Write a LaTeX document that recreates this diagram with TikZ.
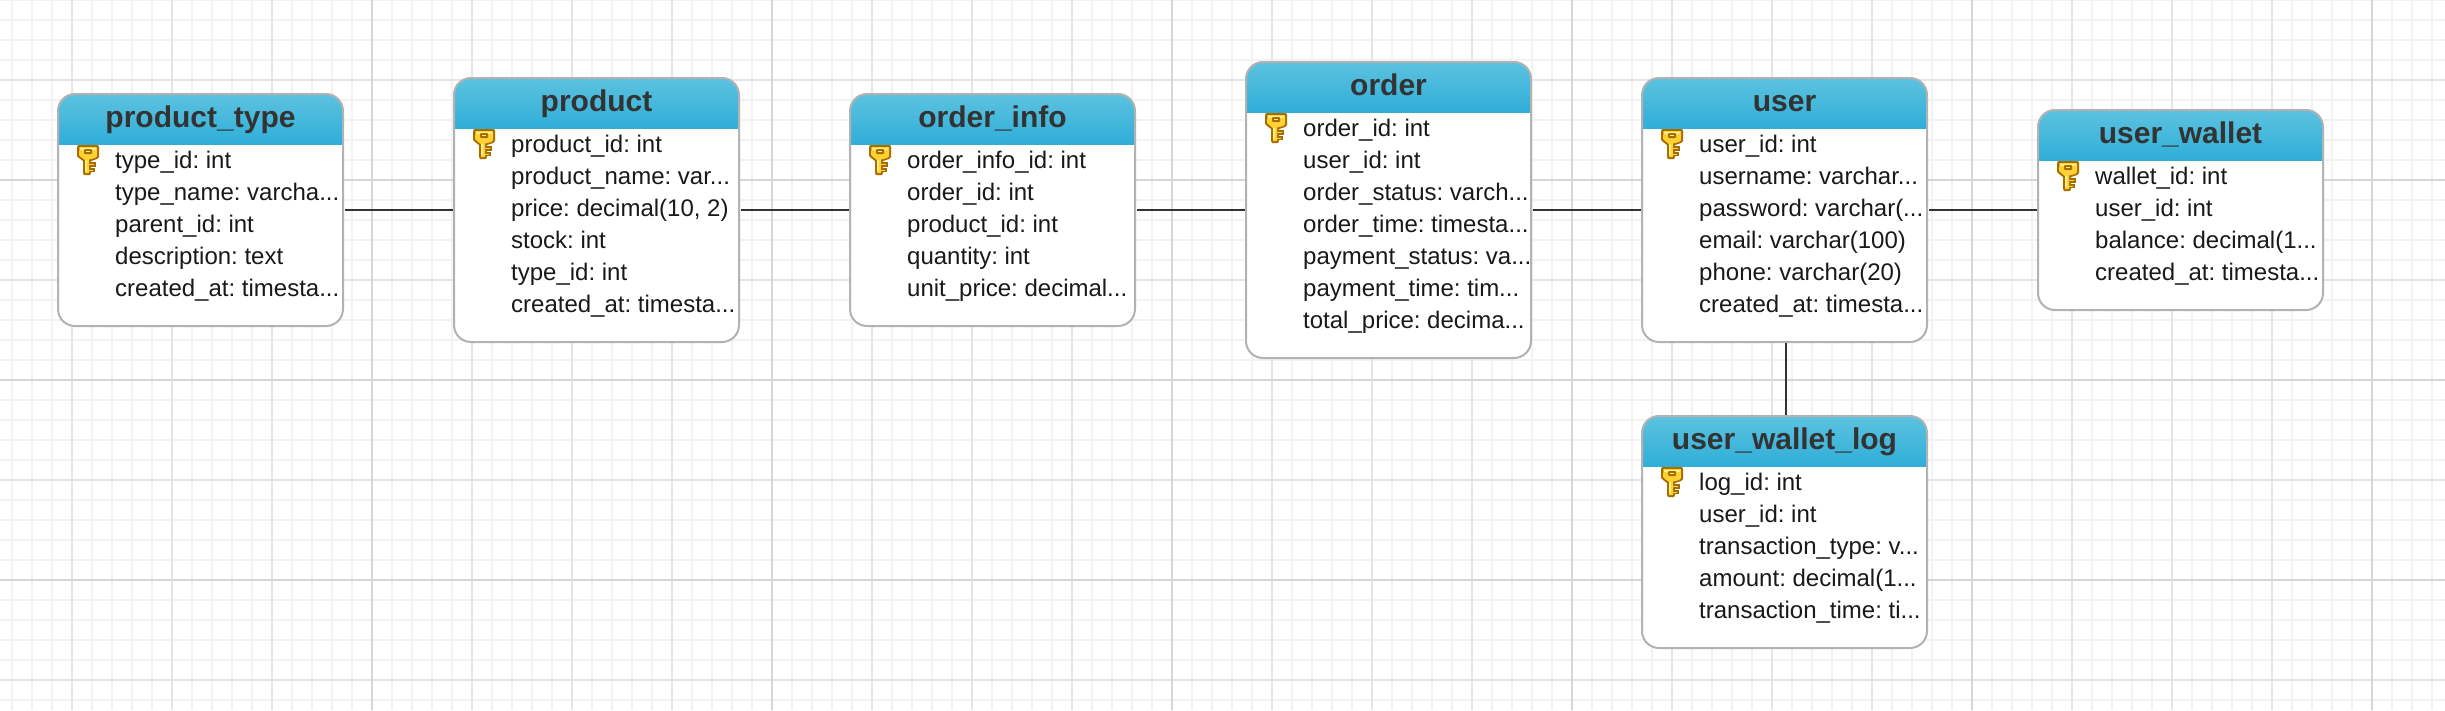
\documentclass[tikz,border=0pt]{standalone}
\usepackage{fontspec}
\setmainfont{Liberation Sans}
\newcommand{\erddots}{...}
\definecolor{gridminor}{HTML}{F2F2F2}
\definecolor{gridmid}{HTML}{E5E5E5}
\definecolor{gridmajor}{HTML}{D6D6D6}
\definecolor{headtop}{HTML}{5CC2E0}
\definecolor{headbot}{HTML}{2FAED8}
\definecolor{keydark}{HTML}{A86C00}
\definecolor{keygold}{HTML}{FFD233}
\definecolor{keypale}{HTML}{FFF08A}
\tikzset{
  erdbox/.style={draw=black!30,line width=2pt,fill=white,rounded corners=17pt,
    minimum width=285pt,inner sep=0pt,outer sep=0pt,
    path picture={
      \foreach \s in {0,...,25} {
        \pgfmathtruncatemacro{\m}{100-4*\s}
        \fill[sharp corners,headtop!\m!headbot]
          ([yshift={-2pt*\s}]path picture bounding box.north west) rectangle
          ([yshift=-51pt]path picture bounding box.north east);
      }}},
  erdtitle/.style={anchor=base,inner sep=0pt,text=black!80,
    font=\fontsize{30pt}{32pt}\selectfont\bfseries\frenchspacing},
  erdrow/.style={anchor=base west,inner sep=0pt,text=black!90,
    font=\fontsize{24pt}{28pt}\selectfont\frenchspacing},
  erdlink/.style={draw=black!80,line width=2pt},
  keyicon/.pic={
    \fill[keydark] (1,0)--(21,0)--(22,2)--(22,12)--(20,14)--(14,16)--(14,28)--(13,30)
      --(7,30)--(6,28)--(6,16)--(2,13)--(0,11)--(0,2)--cycle;
    \fill[keydark] (14,17)--(19,17)--(19,22)--(14,22)--cycle;
    \fill[keydark] (14,23)--(18,23)--(18,27)--(14,27)--cycle;
    \fill[keygold] (2.5,2)--(19.5,2)--(20,3)--(20,11)--(18,13)--(12,14.5)--(12,27)--(11.5,28)
      --(8,28)--(8,15)--(4,12)--(2,10)--cycle;
    \fill[keypale] (3,2.5)--(19,2.5)--(19,5)--(3,5)--cycle;
    \fill[keypale] (8,15)--(10,15)--(10,26)--(8,26)--cycle;
    \fill[keygold] (12,19)--(17,19)--(17,20)--(12,20)--cycle;
    \fill[keygold] (12,24.5)--(16,24.5)--(16,25.5)--(12,25.5)--cycle;
    \fill[keydark] (8,4)--(14,4)--(15,5)--(15,8)--(14,9)--(8,9)--(7,8)--(7,5)--cycle;
    \fill[keypale] (9,5.7)--(13,5.7)--(13,7.3)--(9,7.3)--cycle;
  }
}
\newcommand{\erdtable}[6]{%
  \node[erdbox,minimum height=#4pt,anchor=north west] (#1) at (#2,#3) {};
  \node[erdtitle] (#1-title) at ([yshift=-33pt]#1.north) {#5};
  \pic at ([xshift=19pt,yshift=-51pt]#1.north west) {keyicon};
  \foreach \t [count=\i] in {#6} {
    \node[erdrow] (#1-row\i) at ([xshift=57pt,yshift={-74pt-32pt*(\i-1)}]#1.north west) {\t};
  }
}
\begin{document}
\begin{tikzpicture}[x=1pt,y=-1pt]
\useasboundingbox (0,0) rectangle (2445,710);
\fill[white] (0,0) rectangle (2445,710);
% grid
\foreach \gx in {12,32,...,2445} \draw[gridminor,line width=2pt] (\gx,0) -- (\gx,710);
\foreach \gy in {0,20,...,710} \draw[gridminor,line width=2pt] (0,\gy) -- (2445,\gy);
\foreach \gx in {72,172,...,2445} \draw[gridmid,line width=1.5pt] (\gx,0) -- (\gx,710);
\foreach \gy in {80,180,...,710} \draw[gridmid,line width=2pt] (0,\gy) -- (2445,\gy);
\foreach \gx in {372,772,...,2445} \draw[gridmajor,line width=2pt] (\gx,0) -- (\gx,710);
\foreach \gy in {180,380,580} \draw[gridmajor,line width=2pt] (0,\gy) -- (2445,\gy);
% tables
\erdtable{ptype}{58}{94}{232}{product\_type}{type\_id: int,type\_name: varcha\erddots,parent\_id: int,description: text,created\_at: timesta\erddots}
\erdtable{product}{454}{78}{264}{product}{product\_id: int,product\_name: var\erddots,{price: decimal(10, 2)},stock: int,type\_id: int,created\_at: timesta\erddots}
\erdtable{oinfo}{850}{94}{232}{order\_info}{order\_info\_id: int,order\_id: int,product\_id: int,quantity: int,unit\_price: decimal\erddots}
\erdtable{order}{1246}{62}{296}{order}{order\_id: int,user\_id: int,order\_status: varch\erddots,order\_time: timesta\erddots,payment\_status: va\erddots,payment\_time: tim\erddots,total\_price: decima\erddots}
\erdtable{user}{1642}{78}{264}{user}{user\_id: int,username: varchar\erddots,password: varchar(\erddots,email: varchar(100),phone: varchar(20),created\_at: timesta\erddots}
\erdtable{wallet}{2038}{110}{200}{user\_wallet}{wallet\_id: int,user\_id: int,balance: decimal(1\erddots,created\_at: timesta\erddots}
\erdtable{wlog}{1642}{416}{232}{user\_wallet\_log}{log\_id: int,user\_id: int,transaction\_type: v\erddots,amount: decimal(1\erddots,transaction\_time: ti\erddots}
% connectors
\draw[erdlink,shorten <=2pt,shorten >=1pt] (ptype.east) -- (product.west);
\draw[erdlink,shorten <=2pt,shorten >=1pt] (product.east) -- (oinfo.west);
\draw[erdlink,shorten <=2pt,shorten >=1pt] (oinfo.east) -- (order.west);
\draw[erdlink,shorten <=2pt,shorten >=1pt] (order.east) -- (user.west);
\draw[erdlink,shorten <=2pt,shorten >=1pt] (user.east) -- (wallet.west);
\draw[erdlink,shorten <=1pt,shorten >=1pt] ([xshift=1.5pt]user.south) -- ([xshift=1.5pt]wlog.north);
\end{tikzpicture}
\end{document}
